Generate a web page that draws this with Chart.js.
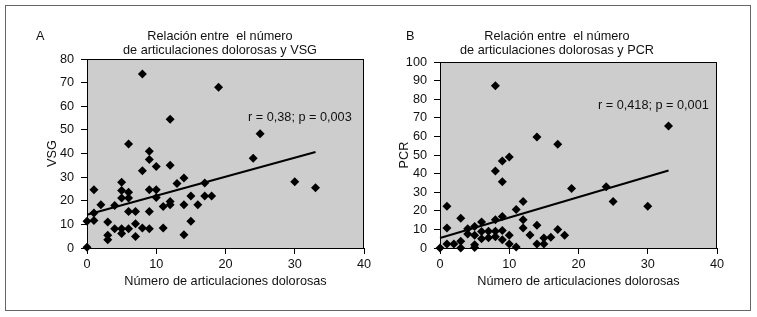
<!DOCTYPE html>
<html><head><meta charset="utf-8">
<script src="https://cdn.jsdelivr.net/npm/chart.js@4.4.0/dist/chart.umd.min.js"></script>
<style>
body{margin:0;background:#fff;width:757px;height:317px;overflow:hidden;position:relative}
#frame{position:absolute;left:5px;top:5px;width:744px;height:304px;border:1px solid #666}
#c1{position:absolute;left:0;top:0}
#c2{position:absolute;left:380px;top:0}
</style></head><body>
<div id="frame"></div>
<canvas id="c1" width="440" height="317"></canvas>
<canvas id="c2" width="355" height="317"></canvas>
<script>
// ---- data ----
const vsgJoints = [8,19,12,25,6,9,9,10,12,8,24,14,13,17,5,30,33,1,5,6,9,10,5,6,10,15,17,18,12,11,12,14,16,2,4,1,6,7,9,0,1,3,7,15,4,5,6,8,9,11,5,3,3,7,14,0];
const vsgValues = [73.6,68,54.5,48.4,44,41,37.5,34.5,35,32.7,38,29.6,27.3,27.5,27.8,28,25.5,24.7,24.3,23.6,24.7,24.7,21.2,21.2,21.4,22,22,22,19.7,17.6,18.3,18.3,18.3,18.3,18,14.8,15.5,15.5,15.5,11.3,11.6,11,10.3,11.3,8.2,8.2,8.2,8.5,8.2,8.5,6.1,5.4,3.5,4.9,5.6,0.3];
const vsgTrendX = [0, 33];
const vsgTrendY = [14.1, 40.6];

const pcrJoints = [0,1,1,1,2,3,3,3,4,4,5,5,5,5,6,6,6,7,7,8,8,8,8,8,9,9,9,9,9,10,10,10,11,11,12,12,12,13,14,14,14,15,15,16,17,17,18,19,24,25,30,33];
const pcrValues = [0,22.5,10.8,2.1,2.1,16,3.6,0,10.4,7.5,11.6,6.8,1.8,0.3,14,8.9,5,9,5.5,87.2,41.4,15.2,9,6,46.8,35.6,17,9.4,4.5,48.9,6.8,2.1,20.7,0.5,25,15.2,10.7,7,59.7,12.2,2.1,5.4,2.1,5.8,55.8,10,6.8,32,32.9,25,22.5,65.6];
const pcrTrendX = [0, 33];
const pcrTrendY = [5.4, 41.7];

const xTicks = [0,10,20,30,40];
const titleA = ['Relación entre  el número','de articulaciones dolorosas y VSG'];
const titleB = ['Relación entre  el número','de articulaciones dolorosas y PCR'];
const xTitle = 'Número de articulaciones dolorosas';

// ---- helpers ----
const FONT = '"Liberation Sans", Arial, Helvetica, sans-serif';
const FS = 12.7;
const TXT = '#111';
Chart.defaults.font.family = FONT;
Chart.defaults.font.size = FS;
Chart.defaults.color = TXT;

const pts = (xs, ys) => xs.map((x, i) => ({x, y: ys[i]}));

function boxPlugin(letter, letterX, title, titleX, note, noteX, noteY) {
  return {
    id: 'box' + letter,
    beforeDraw(chart) {
      const a = chart.chartArea, c = chart.ctx;
      c.save(); c.fillStyle = '#cdcdcd';
      c.fillRect(a.left, a.top, a.right - a.left, a.bottom - a.top);
      c.restore();
    },
    beforeDatasetsDraw(chart) {
      const a = chart.chartArea, c = chart.ctx;
      c.save(); c.strokeStyle = '#000'; c.lineWidth = 1;
      c.strokeRect(a.left + 0.5, a.top + 0.5, a.right - a.left - 1, a.bottom - a.top);
      c.restore();
    },
    afterDraw(chart) {
      const c = chart.ctx;
      c.save(); c.fillStyle = TXT; c.font = FS + 'px ' + FONT;
      c.textBaseline = 'middle'; c.textAlign = 'left';
      c.fillText(letter, letterX, 36);
      c.fillText(note, noteX, noteY);
      c.textAlign = 'center';
      title.forEach((t, i) => c.fillText(t, titleX, 36 + i * 14));
      c.restore();
    }
  };
}

function makeChart(id, xs, ys, tx, ty, yMax, yLabel, pad, yWidth, plugin) {
  return new Chart(document.getElementById(id), {
    type: 'scatter',
    data: {
      datasets: [
        { data: pts(xs, ys), pointStyle: 'rectRot', pointRadius: 4.5, backgroundColor: '#000', borderColor: '#000', borderWidth: 0, clip: false },
        { data: pts(tx, ty), showLine: true, borderColor: '#000', borderWidth: 2, pointRadius: 0, clip: false }
      ]
    },
    options: {
      responsive: false, animation: false, devicePixelRatio: 1,
      layout: { padding: pad },
      plugins: { legend: { display: false }, tooltip: { enabled: false }, title: { display: false } },
      scales: {
        x: {
          type: 'linear', min: 0, max: 40,
          afterBuildTicks: s => { s.ticks = xTicks.map(v => ({value: v})); },
          ticks: { color: TXT, padding: 3 },
          grid: { drawOnChartArea: false, tickLength: 6, color: '#000' },
          border: { color: '#000', width: 1 },
          title: { display: true, text: xTitle, color: TXT, padding: { top: 4, bottom: 4 } },
          afterFit: s => { s.height = 45; }
        },
        y: {
          type: 'linear', min: 0, max: yMax,
          ticks: { stepSize: 10, color: TXT, padding: 7 },
          grid: { drawOnChartArea: false, tickLength: 6, color: '#000' },
          border: { color: '#000', width: 1 },
          title: { display: true, text: yLabel, color: TXT, padding: { top: 4, bottom: 4 } },
          afterFit: s => { s.width = yWidth; }
        }
      }
    },
    plugins: [plugin]
  });
}

makeChart('c1', vsgJoints, vsgValues, vsgTrendX, vsgTrendY, 80, 'VSG',
  { left: 41, right: 76, top: 59, bottom: 24 }, 46,
  boxPlugin('A', 36, titleA, 220, 'r = 0,38; p = 0,003', 248, 117));
makeChart('c2', pcrJoints, pcrValues, pcrTrendX, pcrTrendY, 100, 'PCR',
  { left: 13, right: 18, top: 62, bottom: 24 }, 47,
  boxPlugin('B', 26, titleB, 177, 'r = 0,418; p = 0,001', 218, 105));
</script>
</body></html>
